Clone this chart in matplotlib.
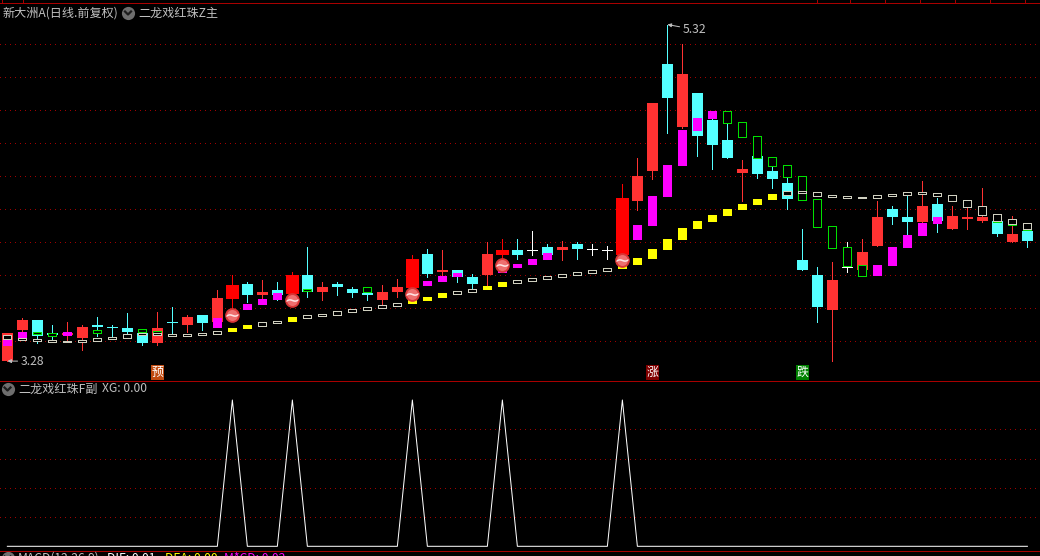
import numpy as np
import matplotlib
matplotlib.use("Agg")
import matplotlib.pyplot as plt

plt.rcParams['font.family'] = ['Noto Sans CJK SC', 'DejaVu Sans']

nan = float('nan')

# --- candles ---
open_ = [3.28, 3.469, 3.529, 3.45, 3.438, 3.42, 3.499, 3.487, 3.481, 3.45,
         3.39, 3.517, 3.499, 3.559, 3.517, 3.656, 3.747, 3.681, 3.711, 3.687,
         3.802, 3.699, 3.747, 3.717, 3.693, 3.65, 3.699, 3.723, 3.929, 3.82,
         3.832, 3.79, 3.802, 3.923, 3.953, 3.953, 3.972, 3.953, 3.99, 3.959,
         3.953, 3.923, 4.25, 4.432, 5.081, 4.699, 4.905, 4.741, 4.62, 4.42,
         4.523, 4.432, 4.359, 3.893, 3.802, 3.59, 3.85, 3.832, 3.978, 4.202,
         4.153, 4.123, 4.232, 4.081, 4.141, 4.129, 4.129, 4.002, 4.069]
close = [3.45, 3.529, 3.432, 3.438, 3.45, 3.487, 3.487, 3.481, 3.456, 3.39,
         3.481, 3.511, 3.547, 3.511, 3.662, 3.741, 3.681, 3.699, 3.681, 3.802,
         3.699, 3.729, 3.729, 3.693, 3.681, 3.699, 3.729, 3.899, 3.808, 3.832,
         3.79, 3.747, 3.929, 3.953, 3.923, 3.953, 3.923, 3.972, 3.959, 3.959,
         3.953, 4.269, 4.402, 4.844, 4.875, 5.02, 4.644, 4.59, 4.511, 4.444,
         4.414, 4.384, 4.262, 3.832, 3.608, 3.772, 3.85, 3.941, 4.153, 4.153,
         4.123, 4.22, 4.129, 4.159, 4.153, 4.153, 4.05, 4.05, 4.008]
high = [3.45, 3.541, 3.529, 3.499, 3.517, 3.499, 3.547, 3.499, 3.572, 3.45,
        3.578, 3.608, 3.559, 3.559, 3.711, 3.802, 3.759, 3.772, 3.759, 3.82,
        3.972, 3.759, 3.759, 3.729, 3.705, 3.741, 3.778, 3.923, 3.959, 3.953,
        3.832, 3.808, 4.002, 4.02, 4.02, 4.069, 3.99, 4.008, 4.002, 3.99,
        3.978, 4.353, 4.511, 4.844, 5.32, 5.202, 4.905, 4.747, 4.723, 4.499,
        4.523, 4.462, 4.396, 4.081, 3.85, 3.881, 4.002, 4.02, 4.25, 4.22,
        4.287, 4.372, 4.269, 4.22, 4.214, 4.329, 4.129, 4.159, 4.081]
low = [3.28, 3.456, 3.39, 3.408, 3.402, 3.347, 3.432, 3.432, 3.45, 3.378,
       3.378, 3.444, 3.456, 3.469, 3.517, 3.59, 3.638, 3.656, 3.65, 3.687,
       3.668, 3.65, 3.681, 3.668, 3.65, 3.62, 3.668, 3.723, 3.79, 3.796,
       3.759, 3.717, 3.735, 3.875, 3.899, 3.923, 3.923, 3.893, 3.899, 3.923,
       3.899, 3.923, 4.196, 4.384, 4.662, 4.693, 4.523, 4.444, 4.511, 4.25,
       4.39, 4.329, 4.202, 3.832, 3.517, 3.28, 3.82, 3.832, 3.978, 4.111,
       4.044, 4.117, 4.062, 4.081, 4.081, 4.123, 4.038, 4.002, 3.972]

# --- upper stick series (magenta when rising, hollow green when falling) ---
upper_open = [3.372, 3.42, 3.456, 3.45, 3.432, nan, 3.469, nan, nan, 3.475,
              3.462, nan, nan, nan, 3.481, nan, 3.59, 3.62, 3.65, nan,
              3.717, nan, nan, nan, 3.729, nan, nan, nan, 3.735, 3.759,
              3.79, nan, nan, 3.814, 3.844, 3.862, 3.893, nan, nan, nan,
              nan, nan, 4.014, 4.099, 4.275, 4.462, 4.675, 4.747, 4.796, 4.729,
              4.644, 4.517, 4.469, 4.402, 4.262, 4.099, 3.972, 3.862, 3.796, 3.856,
              3.966, 4.038, 4.111, nan, nan, nan, 4.129, 4.111, 4.081]
upper_close = [3.408, 3.456, 3.444, 3.432, 3.456, nan, 3.45, nan, nan, 3.456,
               3.45, nan, nan, nan, 3.541, nan, 3.626, 3.656, 3.693, nan,
               3.705, nan, nan, nan, 3.699, nan, nan, nan, 3.765, 3.796,
               3.814, nan, nan, 3.826, 3.869, 3.899, 3.935, nan, nan, nan,
               nan, nan, 4.105, 4.281, 4.469, 4.681, 4.753, 4.796, 4.723, 4.638,
               4.511, 4.462, 4.396, 4.256, 4.093, 3.966, 3.856, 3.796, 3.862, 3.972,
               4.044, 4.117, 4.153, nan, nan, nan, 4.123, 4.105, 4.075]

# --- lower stick series (yellow when rising, hollow grey when falling) ---
lower_open = [3.438, 3.42, 3.414, 3.408, 3.402, 3.408, 3.42, 3.426, 3.444, 3.45,
              3.45, 3.444, 3.444, 3.45, 3.462, 3.456, 3.475, 3.517, 3.523, 3.517,
              3.559, 3.566, 3.584, 3.596, 3.608, 3.62, 3.632, 3.626, 3.644, 3.662,
              3.705, 3.717, 3.711, 3.729, 3.772, 3.784, 3.796, 3.808, 3.82, 3.832,
              3.844, 3.838, 3.862, 3.899, 3.953, 4.014, 4.081, 4.123, 4.159, 4.196,
              4.226, 4.256, 4.311, 4.311, 4.305, 4.287, 4.281, 4.275, 4.287, 4.293,
              4.305, 4.305, 4.299, 4.287, 4.256, 4.22, 4.171, 4.141, 4.117]
lower_close = [3.414, 3.408, 3.402, 3.396, 3.396, 3.396, 3.402, 3.414, 3.42, 3.438,
               3.438, 3.432, 3.432, 3.438, 3.444, 3.481, 3.499, 3.493, 3.511, 3.547,
               3.541, 3.553, 3.559, 3.578, 3.59, 3.602, 3.614, 3.65, 3.668, 3.693,
               3.687, 3.699, 3.735, 3.759, 3.753, 3.765, 3.778, 3.79, 3.802, 3.814,
               3.826, 3.856, 3.905, 3.959, 4.02, 4.087, 4.129, 4.165, 4.202, 4.232,
               4.262, 4.293, 4.287, 4.299, 4.281, 4.275, 4.269, 4.269, 4.269, 4.281,
               4.287, 4.293, 4.281, 4.25, 4.214, 4.165, 4.129, 4.111, 4.081]

# --- signal days ---
ball_days = [15, 19, 27, 33, 41]
ball_price = [3.559, 3.65, 3.687, 3.862, 3.893]
xg_peak = 100
tag_days = [10, 43, 53]
tag_text = ['预', '涨', '跌']
price_grid = [3.4, 3.6, 3.8, 4.0, 4.2, 4.4, 4.6, 4.8, 5.0, 5.2]
xg_grid = [20, 40, 60, 80]

n = len(open_)
xs = np.arange(n)
xg = np.zeros(n)
xg[ball_days] = xg_peak

W, H = 1040, 556
BG = 'black'
RED = '#ff3232'
CYAN = '#54ffff'
MAG = '#ff00ff'
GRID = '#a00000'
LINE = '#a80000'
GREY = '#c0c0c0'
STICK_GREY = '#d0d0c0'
X0, X1 = -0.49, 68.84


def px_axes(top, bottom):
    return fig.add_axes([0, 1 - bottom / H, 1, (bottom - top) / H], facecolor=BG)


def label(x, y, s, color=GREY, size=8.7, **kw):
    fig.text(x / W, 1 - y / H, s, color=color, fontsize=size, va='center', **kw)


def chevron(x, y):
    icon.scatter([x], [y], s=90, color='#6e6e6e', zorder=2, linewidths=0)
    icon.plot([x - 3, x, x + 3], [y - 1.5, y + 1.5, y - 1.5], color='#1c1c1c', lw=1.6, zorder=3)


fig = plt.figure(figsize=(W / 100, H / 100), dpi=100, facecolor=BG)

# main panel
ax = px_axes(0, 380.5)
ax.set_xlim(X0, X1)
ax.set_ylim(5.4685 - 380.5 / 165, 5.4685)
ax.axis('off')
ax.hlines(price_grid, X0, X1, color=GRID, lw=0.72, linestyles=[(0, (1, 5))], antialiased=False, zorder=1)

for i in range(n):
    up = close[i] > open_[i]
    down = close[i] < open_[i]
    big = i in ball_days
    col = ('#ff0000' if big else RED) if up else (CYAN if down else 'white')
    ax.vlines(i, low[i], high[i], color=col, lw=0.72, antialiased=False, zorder=2)
    width = (13 if big else 11) / 15
    if up or down:
        ax.bar(i, abs(close[i] - open_[i]), bottom=min(open_[i], close[i]), width=width,
               color=col, linewidth=0, antialiased=False, zorder=3)
    else:
        ax.hlines(open_[i], i - 5 / 15, i + 5 / 15, color=col, lw=0.72, antialiased=False, zorder=3)

    # the two stick series sit on top of the candles
    if not np.isnan(upper_open[i]):
        u0, u1 = upper_open[i], upper_close[i]
        if u1 > u0:
            ax.bar(i, u1 - u0, bottom=u0, width=9 / 15, color=MAG, linewidth=0, antialiased=False, zorder=4)
        else:
            ax.bar(i, u0 - u1, bottom=u1, width=8 / 15, facecolor=BG, edgecolor='#00e000',
                   linewidth=0.72, antialiased=False, zorder=4)
    l0, l1 = lower_open[i], lower_close[i]
    if l1 > l0:
        ax.bar(i, l1 - l0, bottom=l0, width=9 / 15, color='#ffff00', linewidth=0, antialiased=False, zorder=4)
    else:
        ax.bar(i, l0 - l1, bottom=l1, width=8 / 15, facecolor=BG, edgecolor=STICK_GREY,
               linewidth=0.72, antialiased=False, zorder=4)

# red balls
ax.scatter(ball_days, ball_price, s=112, color='#d93636', linewidths=0, zorder=5)
ax.scatter(ball_days, ball_price, s=62, color='#ee7070', linewidths=0, zorder=6)
ax.scatter(ball_days, ball_price, s=75, color='#ffe4e4', marker='$\\sim$', linewidths=0, zorder=7)

# signal tags
tag_bg = ['#c04a10', '#800000', '#008000']
for d, t, bg in zip(tag_days, tag_text, tag_bg):
    ax.text(d + 0.03, 3.211, t, color='white', fontsize=8.6, ha='center', va='center', zorder=8,
            bbox=dict(boxstyle='square,pad=0.05', facecolor=bg, edgecolor='none'))

# high / low flags
hi = int(np.argmax(high))
ax.annotate(f'{high[hi]:.2f}', xy=(hi, high[hi]), xytext=(15, -5), textcoords='offset pixels',
            color=GREY, fontsize=8.8, va='center',
            arrowprops=dict(arrowstyle='-|>,head_width=0.12,head_length=0.25', color=GREY, lw=0.72, shrinkA=0, shrinkB=0))
ax.annotate(f'{low[0]:.2f}', xy=(0, low[0]), xytext=(13, 0), textcoords='offset pixels',
            color=GREY, fontsize=8.8, va='center',
            arrowprops=dict(arrowstyle='-|>,head_width=0.12,head_length=0.25', color=GREY, lw=0.72, shrinkA=0, shrinkB=0))

# XG panel
sub = px_axes(380.5, 549)
sub.set_xlim(X0, X1)
sub.set_ylim((546.3 - 549) / 1.463, (546.3 - 380.5) / 1.463)
sub.axis('off')
sub.hlines(xg_grid, X0, X1, color=GRID, lw=0.72, linestyles=[(0, (1, 5))], antialiased=False, zorder=1)
sub.plot(xs, xg, color='white', lw=0.72, zorder=2)

# frame lines, top ruler, icons and captions in figure pixels
icon = fig.add_axes([0, 0, 1, 1], facecolor='none')
icon.set_xlim(0, W)
icon.set_ylim(H, 0)
icon.axis('off')
icon.hlines([3, 380.5, 551], 0, W, color=LINE, lw=0.72, antialiased=False, zorder=1)
icon.vlines([2, 23, 817, 850, 885, 920, 955, 990, 1025], 0, 3, color=LINE, lw=0.72, antialiased=False, zorder=1)
chevron(128, 13)
chevron(7.5, 389)
chevron(7.5, 558)

label(3, 13, '新大洲A(日线.前复权)')
label(138, 13, '二龙戏红珠Z主')
label(18, 389, '二龙戏红珠F副')
label(102, 389, 'XG: 0.00')
label(18, 558, 'MACD(12,26,9)')
label(107, 558, 'DIF: 0.01', color='white')
label(165, 558, 'DEA: 0.00', color='#ffff00')
label(224, 558, 'M*CD: 0.02', color='#ff00ff')

fig.savefig('out.png', dpi=100, facecolor=BG)
